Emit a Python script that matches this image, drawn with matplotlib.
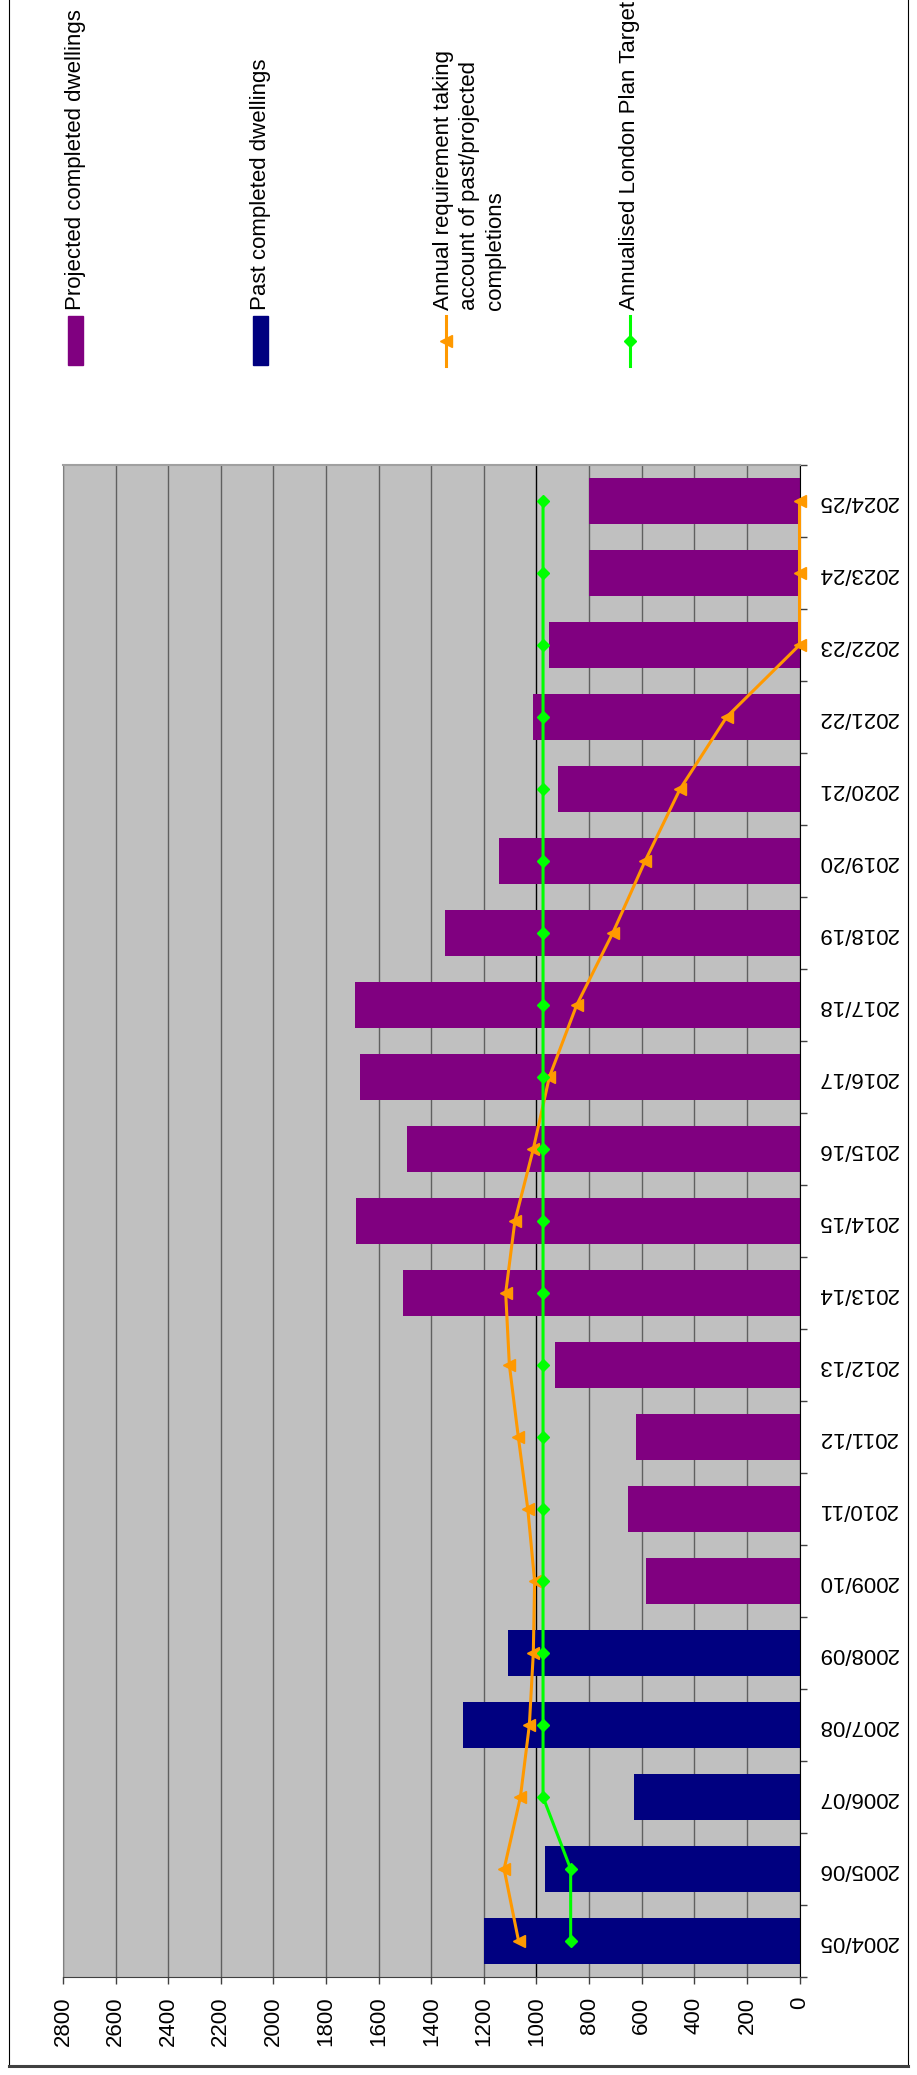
import numpy as np
import matplotlib.pyplot as plt
from matplotlib.patches import Rectangle

plt.rcParams['font.family'] = ['Liberation Sans', 'DejaVu Sans']

years = ["2004/05", "2005/06", "2006/07", "2007/08", "2008/09", "2009/10", "2010/11",
         "2011/12", "2012/13", "2013/14", "2014/15", "2015/16", "2016/17", "2017/18",
         "2018/19", "2019/20", "2020/21", "2021/22", "2022/23", "2023/24", "2024/25"]

# past completions 2004/05 - 2008/09, projections 2009/10 - 2024/25
past_completed = [1198, 967, 629, 1279, 1109]
projected_completed = [584, 652, 621, 930, 1507, 1686, 1492, 1671, 1690, 1347,
                       1142, 918, 1013, 952, 801, 801]
annual_requirement = [1068, 1123, 1061, 1027, 1012, 1007, 1033, 1069, 1103, 1117, 1082,
                      1012, 951, 847, 710, 587, 454, 277, 0, 0, 0]
london_plan_target = [870, 870, 975, 975, 975, 975, 975, 975, 975, 975, 975,
                      975, 975, 975, 975, 975, 975, 975, 975, 975, 975]
value_ticks = [0, 200, 400, 600, 800, 1000, 1200, 1400, 1600, 1800, 2000, 2200, 2400, 2600, 2800]

legend_labels = ["Projected completed dwellings", "Past completed dwellings",
                 "Annual requirement taking\naccount of past/projected\ncompletions",
                 "Annualised London Plan Target"]

PURPLE = '#800080'
NAVY = '#000080'
ORANGE = '#FF9900'
GREEN = '#00FF00'

W, H = 917, 2075
fig = plt.figure(figsize=(W / 100, H / 100), dpi=100)

# chart is drawn turned on its side: values run right to left, years bottom to top
ax = fig.add_axes([63 / W, 98 / H, 736.5 / W, 1512 / H])
ax.set_facecolor('#C0C0C0')

idx = np.arange(len(years))
n_past = len(past_completed)
ax.barh(idx[:n_past], past_completed, height=0.64, color=NAVY, zorder=2)
ax.barh(idx[n_past:], projected_completed, height=0.64, color=PURPLE, zorder=2)
ax.plot(annual_requirement, idx, color=ORANGE, lw=2.2, marker='<', ms=9, zorder=3, clip_on=False)
ax.plot(london_plan_target, idx, color=GREEN, lw=2.2, marker='D', ms=6.5, zorder=4)

ax.set_xlim(2800, 0)
ax.set_ylim(-0.5, len(years) - 0.5)

ax.set_axisbelow(True)
ax.set_xticks(value_ticks)
ax.set_xticklabels([str(v) for v in value_ticks], rotation=90, fontsize=16)
ax.xaxis.grid(True, color='#606060', lw=1.0)
for v, gl in zip(ax.get_xticks(), ax.get_xgridlines()):
    if v == 1000:
        gl.set_color('black')
ax.tick_params(axis='x', direction='out', length=5, width=1, pad=9, color='#404040')

ax.yaxis.tick_right()
ax.set_yticks(idx)
ax.set_yticklabels(years, rotation=180, va='center', fontsize=16)
ax.set_yticks(np.arange(-0.5, len(years)), minor=True)
ax.tick_params(axis='y', which='major', length=0, pad=13)
ax.tick_params(axis='y', which='minor', length=5, width=1, direction='out', color='#404040')

ax.spines['right'].set_color('black')
ax.spines['bottom'].set_color('#404040')
ax.spines['top'].set_color('#A0A0A0')
ax.spines['top'].set_linewidth(1.5)
ax.spines['left'].set_color('#808080')

# overlay in pixel coords for frame and legend
ov = fig.add_axes([0, 0, 1, 1])
ov.set_xlim(0, W)
ov.set_ylim(H, 0)
ov.axis('off')
ov.patch.set_visible(False)

ov.plot([9, 9], [0, 2066], color='black', lw=0.8)
ov.plot([908, 908], [0, 2066], color='black', lw=0.8)
ov.plot([9, 908], [2066, 2066], color='#404040', lw=2.2)

ov.add_patch(Rectangle((68, 316), 15, 49, color=PURPLE))
ov.add_patch(Rectangle((253, 316), 15, 49, color=NAVY))
ov.plot([446, 446], [316, 366], color=ORANGE, lw=2.2)
ov.plot([446], [341], color=ORANGE, marker='<', ms=8)
ov.plot([630, 630], [316, 366], color=GREEN, lw=2.2)
ov.plot([630], [341], color=GREEN, marker='D', ms=6)

ov.text(75.5, 310, legend_labels[0], rotation=90, rotation_mode='anchor',
        ha='left', va='center', fontsize=16)
ov.text(260.5, 310, legend_labels[1], rotation=90, rotation_mode='anchor',
        ha='left', va='center', fontsize=16)
ov.text(433, 310, legend_labels[2], rotation=90, rotation_mode='anchor',
        ha='left', va='top', fontsize=16, linespacing=1.3)
ov.text(630, 310, legend_labels[3], rotation=90, rotation_mode='anchor',
        ha='left', va='center', fontsize=16)

fig.savefig('out.png', dpi=100)
